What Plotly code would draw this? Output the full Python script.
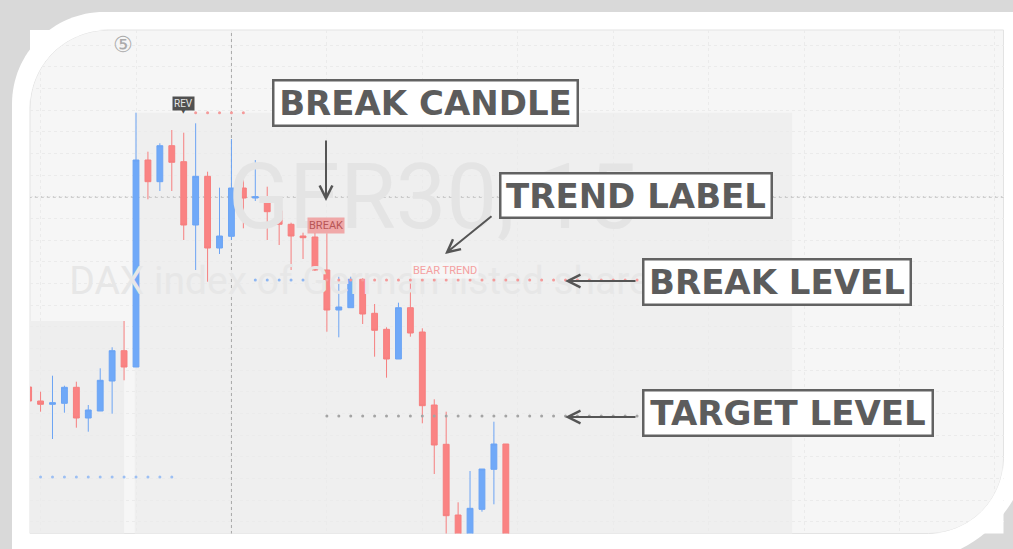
import plotly.graph_objects as go

# ---------------- data ----------------
candle_idx = list(range(-9, 32))
opens = [12313, 12299, 12295.7, 12296.7, 12312.7, 12282, 12289, 12319, 12349.3,
         12333, 12540, 12518.3, 12554.3, 12538.3, 12475, 12523.7, 12452, 12463.7,
         12512, 12502, 12503, 12489.3, 12475.7, 12464, 12463, 12430, 12390,
         12392.3, 12420.7, 12386.7, 12370.7, 12341, 12392.3, 12368, 12295,
         12255.7, 12185, 12155, 12190.7, 12230.7, 12256]
highs = [12315, 12308.3, 12324.3, 12314.3, 12318.3, 12295, 12331.7, 12352.7, 12379,
         12587.3, 12548.3, 12556.7, 12570, 12567.3, 12576.7, 12528.3, 12512.3, 12561,
         12530, 12540, 12513.3, 12491.7, 12477.3, 12467.3, 12467, 12466.7, 12423.3,
         12423.3, 12421.7, 12396, 12372.7, 12397.3, 12420, 12371.7, 12300.7,
         12288.3, 12197.7, 12229, 12231, 12278.3, 12256]
lows = [12297, 12288.3, 12261, 12287.3, 12272.3, 12268.3, 12289, 12286.3, 12319.7,
        12333, 12500.7, 12509, 12509, 12460, 12430, 12418.3, 12446, 12460,
        12471.7, 12499, 12460, 12455, 12430, 12441, 12429, 12368.3, 12362.7,
        12392.3, 12376, 12343.3, 12322.3, 12341, 12363.3, 12276.7, 12226,
        12160, 12145, 12150, 12188.3, 12195.7, 12130]
closes = [12299, 12295.7, 12297.3, 12312.7, 12282, 12290, 12319.7, 12349.3, 12333,
          12540, 12518.3, 12554.3, 12537.7, 12475, 12523.7, 12452, 12464, 12512,
          12502, 12503.3, 12488.3, 12475.7, 12464, 12462.3, 12430, 12390, 12393,
          12420.7, 12386, 12369.7, 12341, 12392.3, 12367, 12294.3, 12255,
          12184.3, 12155, 12191.7, 12231, 12256, 12140]

# level markers (index span, price)
high_level = 12587.3
high_level_span = (5, 9)
break_level = 12420.0
break_blue_span = (10, 14)
break_red_span = (16, 43)
target_level = 12284.0
target_span = (16, 43)
low_level = 12223.0
low_span = (-8, 3)

crosshair_idx = 8
crosshair_price = 12503.0

chart_title = "GER30, 15"
chart_subtitle = "DAX index of German listed shares"
callouts = ["BREAK CANDLE", "TREND LABEL", "BREAK LEVEL", "TARGET LEVEL"]

# ---------------- helpers (pixel -> paper) ----------------
W, H = 1013, 549


def X(p):
    return p / W


def Y(p):
    return 1 - p / H


K = 0.5523


def rounded_path(x0, y0, x1, y1, r_tl, r_br):
    c = []
    c.append(f"M{X(x0)},{Y(y0 + r_tl)}")
    c.append(f"C{X(x0)},{Y(y0 + r_tl * (1 - K))} {X(x0 + r_tl * (1 - K))},{Y(y0)} {X(x0 + r_tl)},{Y(y0)}")
    c.append(f"L{X(x1)},{Y(y0)}")
    c.append(f"L{X(x1)},{Y(y1 - r_br)}")
    c.append(f"C{X(x1)},{Y(y1 - r_br * (1 - K))} {X(x1 - r_br * (1 - K))},{Y(y1)} {X(x1 - r_br)},{Y(y1)}")
    c.append(f"L{X(x0)},{Y(y1)} Z")
    return " ".join(c)


def tl_mask(x0, y0, r):
    return (f"M{X(x0)},{Y(y0)} L{X(x0)},{Y(y0 + r)} "
            f"C{X(x0)},{Y(y0 + r * (1 - K))} {X(x0 + r * (1 - K))},{Y(y0)} {X(x0 + r)},{Y(y0)} Z")


def br_mask(x1, y1, r):
    return (f"M{X(x1)},{Y(y1)} L{X(x1)},{Y(y1 - r)} "
            f"C{X(x1)},{Y(y1 - r * (1 - K))} {X(x1 - r * (1 - K))},{Y(y1)} {X(x1 - r)},{Y(y1)} Z")


fig = go.Figure()

# watermark (drawn first so candles cover it)
fig.add_trace(go.Scatter(x=[24.9], y=[12495], mode="text", text=[chart_title],
                         textposition="middle center", hoverinfo="skip",
                         textfont=dict(family="Roboto", size=90, color="#e4e4e4")))
fig.add_trace(go.Scatter(x=[-5.6], y=[12416], mode="text", text=[chart_subtitle],
                         textposition="middle right", hoverinfo="skip",
                         textfont=dict(family="Roboto", size=39, color="#e7e7e7")))


def dots(span, level, color):
    xs = list(range(span[0], span[1] + 1))
    fig.add_trace(go.Scatter(x=xs, y=[level] * len(xs), mode="markers", hoverinfo="skip",
                             marker=dict(size=3, color=color, line=dict(width=0))))


dots(high_level_span, high_level, "#f49a9a")
dots(break_blue_span, break_level, "#8db6f2")
dots(break_red_span, break_level, "#f49a9a")
dots(target_span, target_level, "#a4a4a4")
dots(low_span, low_level, "#9cbff3")

fig.add_trace(go.Candlestick(
    x=candle_idx, open=opens, high=highs, low=lows, close=closes,
    increasing=dict(line=dict(color="#6ca4f4", width=1), fillcolor="#70a9f8"),
    decreasing=dict(line=dict(color="#f67f7f", width=1), fillcolor="#fa8383"),
    whiskerwidth=0, hoverinfo="skip"))

shapes = []
# outer white frame + inner chart background
shapes.append(dict(type="path", xref="paper", yref="paper", layer="below",
                   path=rounded_path(12, 12, 1030, 562, 92, 125),
                   fillcolor="#ffffff", line=dict(width=0)))
shapes.append(dict(type="path", xref="paper", yref="paper", layer="below",
                   path=rounded_path(30, 30, 1003.5, 533.5, 78, 75),
                   fillcolor="#f6f6f6", line=dict(color="#e3e3e3", width=1)))
# shaded zones based on candle highs
shapes.append(dict(type="rect", xref="x", yref="y", layer="below",
                   x0=-12, x1=-1.0, y0=12000, y1=highs[candle_idx.index(-1)],
                   fillcolor="#eeeeee", line=dict(width=0)))
shapes.append(dict(type="rect", xref="x", yref="y", layer="below",
                   x0=-0.1, x1=55.0, y0=12000, y1=highs[candle_idx.index(0)],
                   fillcolor="#efefef", line=dict(width=0)))
# crosshair
shapes.append(dict(type="line", xref="x", yref="y", layer="below",
                   x0=crosshair_idx, x1=crosshair_idx, y0=12100, y1=12700,
                   line=dict(color="#a8a8a8", width=1, dash="dot")))
shapes.append(dict(type="line", xref="x", yref="y", layer="below",
                   x0=-12, x1=80, y0=crosshair_price, y1=crosshair_price,
                   line=dict(color="#a8a8a8", width=1, dash="dot")))
# corner masks (keep grid inside rounded corners)
shapes.append(dict(type="path", xref="paper", yref="paper", layer="above",
                   path=tl_mask(30, 30, 78), fillcolor="#ffffff", line=dict(width=0)))
shapes.append(dict(type="path", xref="paper", yref="paper", layer="above",
                   path=br_mask(1003.5, 533.5, 75), fillcolor="#ffffff", line=dict(width=0)))

annotations = []
# circled number
annotations.append(dict(xref="paper", yref="paper", x=X(111), y=Y(30), text="⑤",
                        showarrow=False, font=dict(family="DejaVu Sans", size=22, color="#ababab")))
# chart labels
annotations.append(dict(xref="x", yref="y", x=3.97, y=12596.3, text="REV", showarrow=False,
                        font=dict(family="Roboto", size=10, color="#e6e6e6"),
                        bgcolor="#505050", borderpad=1))
annotations.append(dict(xref="x", yref="y", x=3.97, y=12589.5, text="▼", showarrow=False,
                        font=dict(family="DejaVu Sans", size=6, color="#505050")))
annotations.append(dict(xref="x", yref="y", x=15.94, y=12474.2, text="BREAK", showarrow=False,
                        font=dict(family="Roboto", size=11, color="#b85555"),
                        bgcolor="rgba(240,150,150,0.8)", borderpad=1))
annotations.append(dict(xref="x", yref="y", x=25.9, y=12429.3, text="BEAR TREND", showarrow=False,
                        font=dict(family="Roboto", size=11, color="#f4a0a0"),
                        bgcolor="rgba(250,250,250,0.7)", borderpad=1))

# callout boxes (pixel boxes: left, top, right, bottom)
boxes = [(272, 79, 579, 127), (499, 172, 773, 219), (642, 258, 912, 306), (642, 389, 934, 437)]
for label, (l, t, r, b) in zip(callouts, boxes):
    annotations.append(dict(xref="paper", yref="paper", x=X((l + r) / 2), y=Y((t + b) / 2),
                            xanchor="center", yanchor="middle",
                            text=f"<b>{label}</b>", showarrow=False,
                            width=(r - l) - 5, height=(b - t) - 5, borderpad=0,
                            bordercolor="#626262", borderwidth=2.5, bgcolor="#ffffff",
                            font=dict(family="DejaVu Sans", size=34, color="#5c5c5c")))

# arrows: (tip_x, tip_y, tail_x, tail_y) in pixels
arrows = [(326, 201, 326, 139), (445, 254, 493, 215), (565, 281, 637, 281), (565, 417, 637, 417)]
for tx, ty, sx, sy in arrows:
    annotations.append(dict(xref="paper", yref="paper", x=X(tx), y=Y(ty), text="",
                            showarrow=True, ax=sx - tx, ay=sy - ty,
                            arrowhead=5, arrowsize=1.25, arrowwidth=2, arrowcolor="#555555",
                            standoff=0))

fig.update_layout(
    width=W, height=H, autosize=False,
    margin=dict(l=0, r=0, t=0, b=0, pad=0),
    paper_bgcolor="#d9d9d9", plot_bgcolor="rgba(0,0,0,0)",
    showlegend=False, hovermode=False, boxgap=0.3,
    shapes=shapes, annotations=annotations,
    xaxis=dict(domain=[30 / W, 1003.5 / W], range=[-8.885, 72.716],
               showgrid=True, gridcolor="#ebebeb", griddash="dot", gridwidth=1,
               tickmode="linear", tick0=0, dtick=8,
               showticklabels=False, ticks="", zeroline=False, showline=False,
               rangeslider=dict(visible=False), fixedrange=True),
    yaxis=dict(domain=[1 - 533.5 / H, 1 - 30 / H], range=[12166.5, 12670],
               showgrid=True, gridcolor="#ebebeb", griddash="dot", gridwidth=1,
               tickmode="linear", tick0=12655, dtick=65 / 3,
               showticklabels=False, ticks="", zeroline=False, showline=False,
               fixedrange=True),
)

fig.write_html("out.html", config={"displayModeBar": False},
               post_script="document.body.style.margin='0';document.body.style.padding='0';")
